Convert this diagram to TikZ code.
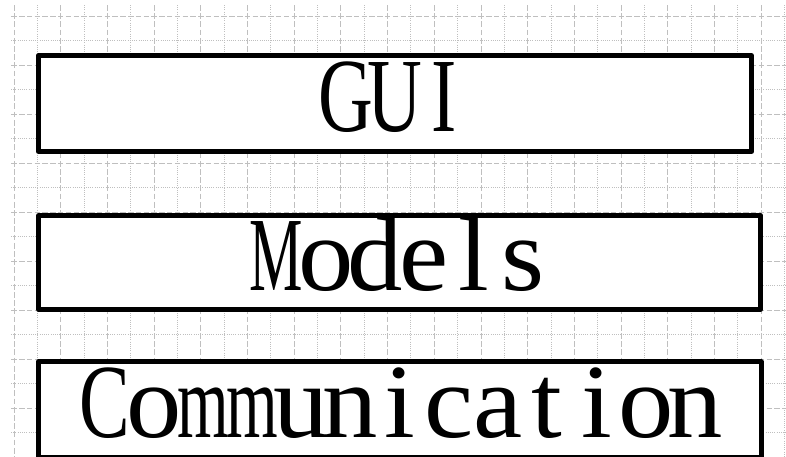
\documentclass[tikz,border=0pt]{standalone}
\usepackage{fontspec}
\usepackage{graphicx}
\usepackage{tikz}
\setmainfont{Liberation Serif}

% every letter sits in a cell of the same width,
% squeezed differently for capitals, small letters and wide letters
\newlength\cellw
\setlength\cellw{36.9pt}
\newcommand\cellchar[1]{%
  \ifnum\lccode`#1=`#1 \def\squeeze{1.05}\else\def\squeeze{0.72}\fi
  \ifx#1M\def\squeeze{0.57}\fi
  \ifx#1m\def\squeeze{0.63}\fi
  \makebox[\cellw][c]{\scalebox{\squeeze}[1]{#1}}}
\def\cellsloop#1{\ifx#1\relax\else\cellchar{#1}\expandafter\cellsloop\fi}
\newcommand\cells[1]{\cellsloop#1\relax}

\tikzset{
  layer/.style={draw, fill=white, line width=3.75pt, line join=round,
    rectangle, inner sep=0pt, text height=42pt, text depth=0pt,
    font=\fontsize{79}{80}\selectfont},
  hmajor/.style={black!25, line width=0.75pt, dash pattern=on 4.1pt off 1.74pt},
  vmajor/.style={black!25, line width=0.75pt, dash pattern=on 4.3pt off 1.85pt},
  minorline/.style={black!25, line width=0.75pt, dash pattern=on 0.75pt off 0.9pt}
}

\begin{document}
\begin{tikzpicture}[x=0.75pt,y=-0.75pt]
    \useasboundingbox (0,0) rectangle (786,457);

    % Background grid
    \foreach \k in {1,3,...,33}
        \draw[minorline] ({14+23.35*\k},5) -- ({14+23.35*\k},457);
    \foreach \k in {1,3,...,17}
        \draw[minorline] (11,{16+24.5*\k}) -- (786,{16+24.5*\k});
    \foreach \k in {0,2,...,32}
        \draw[vmajor] ({14+23.35*\k},5) -- ({14+23.35*\k},457);
    \foreach \k in {0,2,...,18}
        \draw[hmajor] (11.25,{16+24.5*\k}) -- (786,{16+24.5*\k});

    % Layers
    \node[layer, minimum width=535pt, minimum height=71.8pt] (gui) at (395,103.6) {\cells{GUI}};
    \node[layer, minimum width=541.8pt, minimum height=70.2pt] (models) at (399.6,262.5) {\cells{Models}};
    \node[layer, minimum width=542pt, minimum height=71.4pt] (comm) at (399.7,409.4) {\cells{Communication}};

\end{tikzpicture}
\end{document}
